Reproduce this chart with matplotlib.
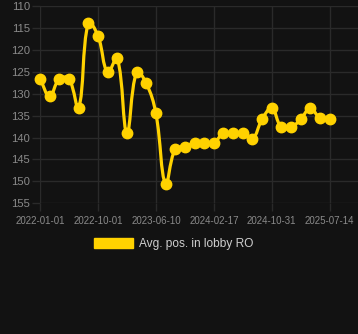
import matplotlib
matplotlib.use('Agg')
import matplotlib.pyplot as plt
from matplotlib.path import Path
from matplotlib.patches import PathPatch, Patch
import numpy as np

# average lobby position, one value per sample (category axis)
positions = [126.6, 130.6, 126.6, 126.6, 133.3, 113.8, 116.8, 125.1, 121.9, 139.0,
             125.1, 127.6, 134.5, 150.6, 142.6, 142.1, 141.2, 141.2, 141.2, 139.0,
             139.0, 139.0, 140.3, 135.8, 133.3, 137.7, 137.7, 135.8, 133.3, 135.6,
             135.8]
tick_labels = ['2022-01-01', '2022-10-01', '2023-06-10', '2024-02-17', '2024-10-31', '2025-07-14']
tick_every = 6
y_ticks = [110, 115, 120, 125, 130, 135, 140, 145, 150, 155]
series_name = 'Avg. pos. in lobby RO'

BG = '#121212'
GRID = '#2a2a2a'
YEL = '#ffd200'
TXT = '#8a8a8a'
plt.rcParams['font.family'] = ['Liberation Sans', 'DejaVu Sans']

W, H = 358, 334
fig = plt.figure(figsize=(W/100, H/100), dpi=100)
fig.patch.set_facecolor(BG)
ax = fig.add_axes([40/W, 1-203.3/H, 318/W, (203.3-6)/H])
ax.set_facecolor(BG)

x = np.arange(len(positions))
y = np.array(positions, dtype=float)

# chart.js-like bezier smoothing (tension 0.4), computed in pixel space
sx, sy = 9.657, 4.385
px, py = x*sx, y*sy
n = len(x)
cp_prev = np.zeros((n, 2)); cp_next = np.zeros((n, 2))
for i in range(n):
    a = max(i-1, 0); b = min(i+1, n-1)
    d01 = np.hypot(px[i]-px[a], py[i]-py[a])
    d12 = np.hypot(px[b]-px[i], py[b]-py[i])
    tot = d01 + d12
    s01 = d01/tot if tot else 0
    s12 = d12/tot if tot else 0
    fa, fb = 0.4*s01, 0.4*s12
    dx, dy = px[b]-px[a], py[b]-py[a]
    cp_prev[i] = (px[i]-fa*dx, py[i]-fa*dy)
    cp_next[i] = (px[i]+fb*dx, py[i]+fb*dy)
verts = [(x[0], y[0])]
codes = [Path.MOVETO]
for i in range(n-1):
    verts += [(cp_next[i][0]/sx, cp_next[i][1]/sy),
              (cp_prev[i+1][0]/sx, cp_prev[i+1][1]/sy),
              (x[i+1], y[i+1])]
    codes += [Path.CURVE4]*3
ax.add_patch(PathPatch(Path(verts, codes), facecolor='none', edgecolor=YEL, lw=2.3,
                       zorder=3, clip_on=False))
ax.plot(x, y, linestyle='none', marker='o', ms=7.5, color=YEL, zorder=4, clip_on=False)

ax.set_xlim(0, 318/9.657)
ax.set_ylim(155, 110)
ax.set_yticks(y_ticks)
ax.set_xticks(x[::tick_every])
ax.set_xticklabels(tick_labels)
ax.grid(True, color=GRID, lw=1)
ax.set_axisbelow(True)
for s in ax.spines.values():
    s.set_visible(False)
ax.tick_params(axis='y', colors=GRID, length=5.8, width=1, pad=1.5, labelcolor=TXT, labelsize=8.1)
ax.tick_params(axis='x', colors=GRID, length=5.8, width=1, pad=3, labelcolor=TXT, labelsize=7)

fig.legend(handles=[Patch(facecolor=YEL, edgecolor=YEL, label=series_name)],
           loc='center', bbox_to_anchor=(173.5/W, 1-244/H), frameon=False,
           handlelength=3.3, handleheight=1.0, handletextpad=0.5, borderpad=0,
           prop={'size': 8.6}, labelcolor='#cfcfcf')

fig.savefig('out.png', dpi=100, facecolor=BG)
